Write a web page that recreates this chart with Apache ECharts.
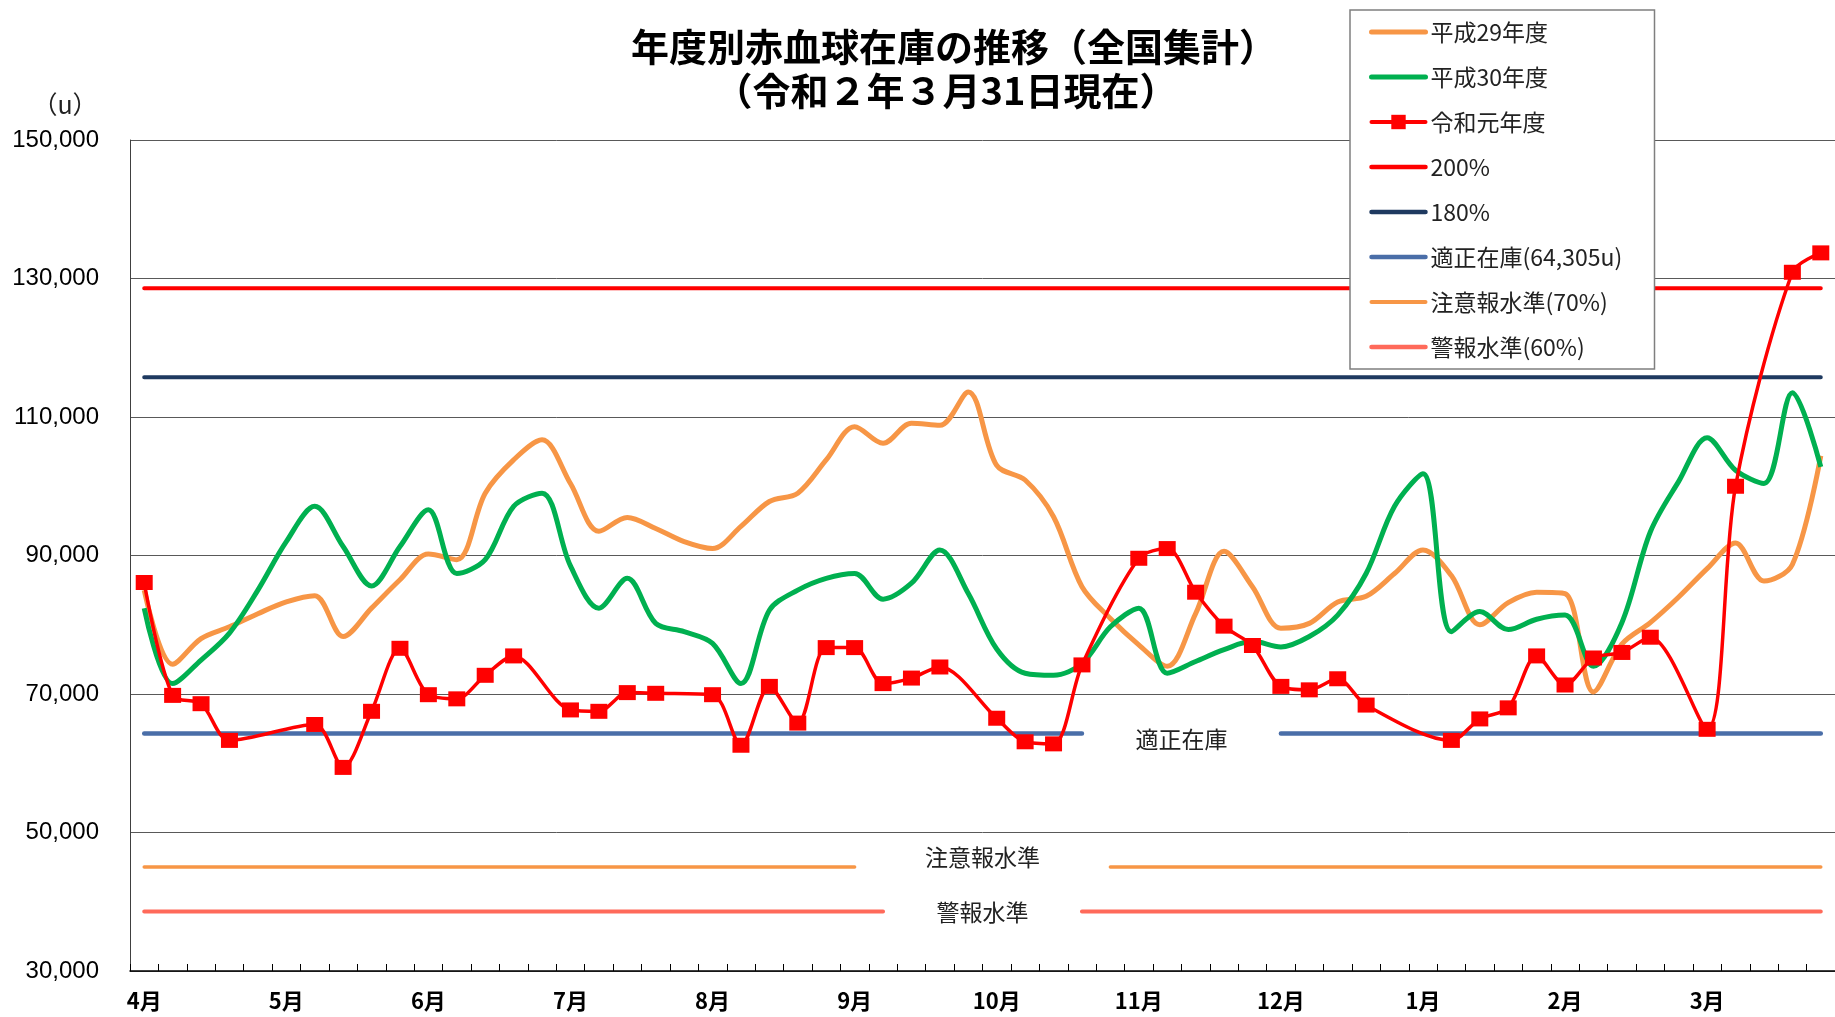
<!DOCTYPE html>
<html><head><meta charset="utf-8">
<script src="https://cdn.jsdelivr.net/npm/echarts@6/dist/echarts.min.js"></script>
<style>html,body{margin:0;padding:0;background:#fff}#c{width:1835px;height:1017px}</style>
</head><body><div id="c"></div>
<script>
// ---- data ----
const months = ['4月','5月','6月','7月','8月','9月','10月','11月','12月','1月','2月','3月'];
const slotsPerMonth = 5;
const categories = months.flatMap(m => [1,2,3,4,5].map(k => m + '-' + k));

const h29 = [85000, 74300, 78000, 79700, 81600, 83300, 84200, 78300, 82400, 86500,
             90200, 89400, 99000, 103800, 106700, 100400, 93500, 95500, 93900, 92000,
             91000, 94200, 97800, 99000, 103800, 108600, 106200, 109100, 108800, 113600,
             103000, 100900, 95600, 85500, 80900, 77100, 74000, 81600, 90600, 85500,
             79500, 80200, 83300, 84100, 87400, 90800, 87100, 80000, 83200, 84700,
             84500, 70300, 77200, 80300, 84000, 88100, 91800, 86300, 88700, 104400];

const h30 = [82400, 71500, 74900, 78800, 85000, 92000, 97100, 91300, 85600, 91300,
             96600, 87400, 89400, 97100, 99000, 88500, 82400, 86700, 80200, 79000,
             77300, 71500, 82100, 85000, 86700, 87400, 83700, 86000, 90800, 84500,
             76500, 73000, 72700, 74400, 79700, 82400, 73000, 74700, 76400, 77600,
             76800, 78300, 81400, 87400, 97100, 101800, 79000, 81900, 79300, 80800,
             81400, 74000, 80300, 93400, 100700, 107000, 102300, 100400, 113500, 102800];

const r1 = [86100, 69800, 68600, 63300, null, null, 65600, 59400, 67500, 76600,
            69900, 69300, 72700, 75500, null, 67700, 67500, 70200, 70100, null,
            69900, 62600, 71100, 65800, 76700, 76700, 71500, 72300, 73900, null,
            66500, 63100, 62800, 74200, null, 89600, 91000, 84700, 79800, 77000,
            71100, 70600, 72200, 68400, null, null, 63300, 66400, 68000, 75500,
            71300, 75200, 76000, 78200, null, 64900, 100000, null, 130900, 133700];

const stdStock = 64305;          // 適正在庫
const level200 = 128610;         // 200%
const level180 = 115749;         // 180%
const cautionLevel = 45014;      // 注意報水準(70%)
const alarmLevel = 38583;        // 警報水準(60%)
// category index ranges left blank (where the text labels sit)
const stdGap = [34, 39];
const cautionGap = [26, 33];
const alarmGap = [27, 32];

const yMin = 30000, yMax = 150000, yStep = 20000;

const titleLines = ['年度別赤血球在庫の推移（全国集計）', '（令和２年３月31日現在）'];

// ---- chart ----
const flat = (v, gap) => categories.map((_, i) => (gap && i >= gap[0] && i <= gap[1]) ? null : v);
const JP = '"Noto Sans CJK JP", "Noto Sans", sans-serif';

const refLine = (name, value, gap, color, width) => ({
  name, type: 'line', data: flat(value, gap), symbol: 'none', showSymbol: false,
  connectNulls: false, silent: true, z: 2,
  lineStyle: { color, width, cap: 'round' }, itemStyle: { color }
});

const chart = echarts.init(document.getElementById('c'), null, { renderer: 'canvas' });
const option = {
  backgroundColor: '#ffffff',
  animation: false,
  textStyle: { fontFamily: JP },
  grid: { left: 130, right: 0, top: 140, bottom: 46, containLabel: false, outerBoundsMode: 'none' },
  legend: {
    orient: 'vertical', left: 1350, top: 10,
    padding: [10, 17, 10, 19],
    itemWidth: 54, itemHeight: 18, itemGap: 21,
    backgroundColor: '#fff', borderColor: '#7f7f7f', borderWidth: 1.5,
    selectedMode: false,
    textStyle: { fontFamily: JP, fontSize: 23, color: '#222', width: 207, lineHeight: 24 },
    data: [
      { name: '平成29年度', itemStyle: { opacity: 0 }, lineStyle: { width: 5, cap: 'round' } },
      { name: '平成30年度', itemStyle: { opacity: 0 }, lineStyle: { width: 5, cap: 'round' } },
      { name: '令和元年度', lineStyle: { width: 4, cap: 'round' } },
      { name: '200%', itemStyle: { opacity: 0 }, lineStyle: { width: 4.5, cap: 'round' } },
      { name: '180%', itemStyle: { opacity: 0 }, lineStyle: { width: 4.5, cap: 'round' } },
      { name: '適正在庫(64,305u)', itemStyle: { opacity: 0 }, lineStyle: { width: 4.5, cap: 'round' } },
      { name: '注意報水準(70%)', itemStyle: { opacity: 0 }, lineStyle: { width: 4, cap: 'round' } },
      { name: '警報水準(60%)', itemStyle: { opacity: 0 }, lineStyle: { width: 4.5, cap: 'round' } }
    ]
  },
  xAxis: {
    type: 'category', data: categories, boundaryGap: true,
    axisLine: { show: true, lineStyle: { color: '#000', width: 1.5 } },
    axisTick: { show: true, inside: true, length: 7, interval: 0, lineStyle: { color: '#000', width: 1 } },
    axisLabel: {
      interval: slotsPerMonth - 1, formatter: v => v.split('-')[0], margin: 19,
      fontFamily: JP, fontSize: 22, fontWeight: 'bold', color: '#000'
    },
    splitLine: { show: false }
  },
  yAxis: {
    type: 'value', min: yMin, max: yMax, interval: yStep,
    axisLine: { show: true, lineStyle: { color: '#404040', width: 1 } },
    axisTick: { show: false },
    axisLabel: {
      margin: 31, fontFamily: '"Liberation Sans", Arial, sans-serif', fontSize: 24, color: '#000',
      formatter: v => Number(v).toLocaleString('en-US')
    },
    splitLine: { show: true, lineStyle: { color: '#595959', width: 1 } }
  },
  series: [
    refLine('200%', level200, null, '#FF0000', 4),
    refLine('180%', level180, null, '#1F3A60', 4),
    refLine('適正在庫(64,305u)', stdStock, stdGap, '#4A6EA8', 4.5),
    refLine('注意報水準(70%)', cautionLevel, cautionGap, '#F79646', 3.5),
    refLine('警報水準(60%)', alarmLevel, alarmGap, '#FF6A5A', 4),
    {
      name: '平成29年度', type: 'line', data: h29, smooth: 0.33, symbol: 'none', showSymbol: false, z: 3,
      lineStyle: { color: '#F79646', width: 5 }, itemStyle: { color: '#F79646' }
    },
    {
      name: '平成30年度', type: 'line', data: h30, smooth: 0.33, symbol: 'none', showSymbol: false, z: 4,
      lineStyle: { color: '#00B050', width: 5 }, itemStyle: { color: '#00B050' }
    },
    {
      name: '令和元年度', type: 'line', data: r1, smooth: 0.3, connectNulls: true, z: 5,
      symbol: 'rect', symbolSize: [17, 15], showSymbol: true,
      lineStyle: { color: '#FF0000', width: 3.5 }, itemStyle: { color: '#FF0000', borderWidth: 0 }
    }
  ]
};
chart.setOption(option);

// text labels placed in the gaps of the reference lines, via the chart's own scales
const px = (i, v) => chart.convertToPixel({ xAxisIndex: 0, yAxisIndex: 0 }, [i, v]);
const gapLabel = (text, value, gap, dy) => {
  const a = px(gap[0] - 1, value), b = px(gap[1] + 1, value);
  return {
    type: 'text', x: (a[0] + b[0]) / 2, y: a[1] + dy, z: 10,
    style: { text, fontFamily: JP, fontSize: 23, fill: '#222', align: 'center', verticalAlign: 'middle' }
  };
};
const titleStyle = { fontFamily: JP, fontSize: 38, fontWeight: 'bold', fill: '#000', align: 'center', verticalAlign: 'middle' };
chart.setOption({
  graphic: [
    { type: 'text', x: 954, y: 47, z: 10, style: Object.assign({ text: titleLines[0] }, titleStyle) },
    { type: 'text', x: 946, y: 91, z: 10, style: Object.assign({ text: titleLines[1] }, titleStyle) },
    gapLabel('適正在庫', stdStock, stdGap, 6),
    gapLabel('注意報水準', cautionLevel, cautionGap, -10),
    gapLabel('警報水準', alarmLevel, alarmGap, 1),
    { type: 'text', x: 65, y: 104, style: { text: '（u）', fontFamily: JP, fontSize: 25, fill: '#222', align: 'center', verticalAlign: 'middle' } }
  ]
});
</script>
</body></html>
